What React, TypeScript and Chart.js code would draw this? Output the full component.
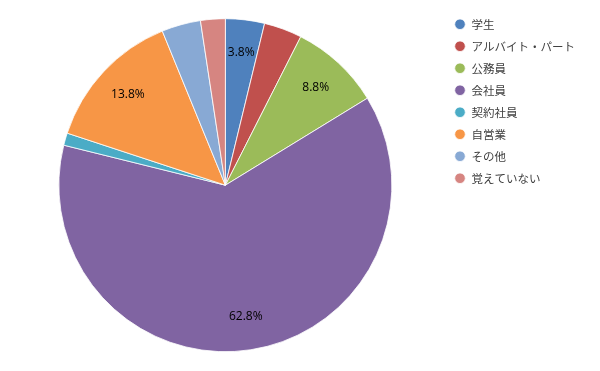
import React, { useEffect, useRef } from "react";
import { Chart, registerables } from "chart.js";

Chart.register(...registerables);

const categories = ["学生", "アルバイト・パート", "公務員", "会社員", "契約社員", "自営業", "その他", "覚えていない"];
const values = [3.8, 3.7, 8.8, 62.8, 1.2, 13.8, 3.8, 2.4];
const showLabel = [true, false, true, true, false, true, false, false];
const colors = ["#4F81BD", "#C0504D", "#9BBB59", "#8064A2", "#4BACC6", "#F79646", "#88A9D4", "#D68581"];

const labelPlugin = {
  id: "sliceLabels",
  afterDatasetsDraw(chart: any) {
    const meta = chart.getDatasetMeta(0);
    const ctx = chart.ctx;
    ctx.save();
    ctx.font = "12px 'Open Sans'";
    ctx.fillStyle = "#000";
    ctx.textAlign = "center";
    ctx.textBaseline = "middle";
    meta.data.forEach((arc: any, i: number) => {
      if (!showLabel[i]) return;
      const p = arc.getProps(["x", "y", "startAngle", "endAngle", "outerRadius"], true);
      const mid = (p.startAngle + p.endAngle) / 2;
      const r = p.outerRadius * 0.8;
      ctx.fillText(values[i].toFixed(1) + "%", p.x + Math.cos(mid) * r, p.y + Math.sin(mid) * r);
    });
    ctx.restore();
  },
};

export default function App() {
  const ref = useRef<HTMLCanvasElement | null>(null);
  useEffect(() => {
    if (!ref.current) return;
    const chart = new Chart(ref.current, {
      type: "pie",
      data: {
        labels: categories,
        datasets: [
          {
            data: values,
            backgroundColor: colors,
            borderColor: "#ffffff",
            borderWidth: 0.8,
            radius: 166.5,
          },
        ],
      },
      options: {
        animation: false,
        responsive: true,
        maintainAspectRatio: false,
        layout: { padding: { top: 8, bottom: 8.6, right: 15, left: 7 } },
        plugins: {
          tooltip: { enabled: false },
          legend: {
            position: "right",
            align: "start",
            labels: {
              usePointStyle: true,
              pointStyle: "circle",
              boxWidth: 11.5,
              boxHeight: 7.5,
              padding: 10.5,
              color: "#404040",
              font: { family: "'Noto Sans CJK JP'", size: 11.5 },
            },
          },
        },
      },
      plugins: [labelPlugin],
    });
    return () => chart.destroy();
  }, []);
  return (
    <div style={{ position: "absolute", left: 0, top: 0, width: 600, height: 371, background: "#fff" }}>
      <canvas ref={ref} />
    </div>
  );
}
